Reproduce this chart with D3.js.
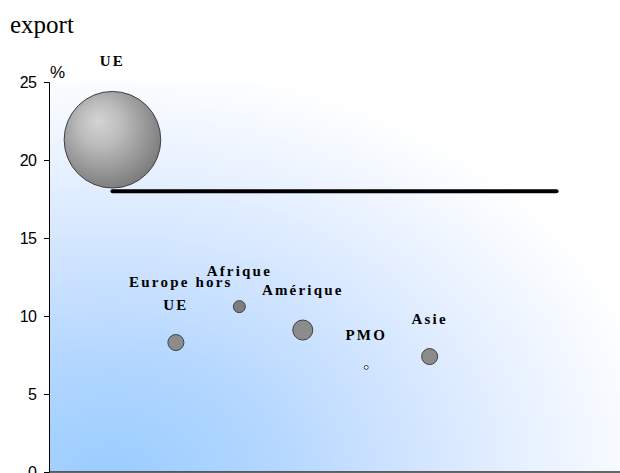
<!DOCTYPE html>
<html><head><meta charset="utf-8">
<script src="https://cdnjs.cloudflare.com/ajax/libs/d3/7.8.5/d3.min.js"></script>
<style>body{margin:0;background:#fff}svg{display:block}</style>
</head><body>
<script>
// Data
const categories = ["UE", "Europe hors UE", "Afrique", "Amérique", "PMO", "Asie"];
const xPositions = [1, 2, 3, 4, 5, 6];
const shareValues = [21.3, 8.3, 10.6, 9.1, 6.7, 7.4];
const bubbleSizes = [2330, 64, 36, 100, 4, 64];
const refLineX = [1, 8];
const refLineY = [18, 18];
const yTicks = [0, 5, 10, 15, 20, 25];

const W = 620, H = 473;
const svg = d3.select("body").append("svg").attr("width", W).attr("height", H);
const defs = svg.append("defs");

const x = d3.scaleLinear().domain([0, 9]).range([49, 620]);
const y = d3.scaleLinear().domain([0, 25]).range([472, 82]);
const r = d3.scaleSqrt().domain([0, 2330]).range([0, 48.3]);

// background gradient (elliptical, from bottom-left)
const bg = defs.append("radialGradient").attr("id", "bg")
  .attr("gradientUnits", "userSpaceOnUse")
  .attr("cx", 0).attr("cy", 0).attr("r", 1)
  .attr("gradientTransform", "translate(110,480) scale(560,420)");
[[0, "#99ccff"], [0.3, "#b4d7ff"], [0.55, "#d2e5ff"], [0.8, "#edf4ff"], [1, "#ffffff"]]
  .forEach(([o, c]) => bg.append("stop").attr("offset", o).attr("stop-color", c));

const ball = defs.append("radialGradient").attr("id", "ball")
  .attr("cx", 0.42).attr("cy", 0.4).attr("r", 0.62).attr("fx", 0.35).attr("fy", 0.3);
[[0, "#d4d4d4"], [0.35, "#bdbdbd"], [0.7, "#9a9a9a"], [1, "#7c7c7c"]]
  .forEach(([o, c]) => ball.append("stop").attr("offset", o).attr("stop-color", c));

svg.append("rect").attr("x", x(0)).attr("y", y(25))
  .attr("width", x(9) - x(0)).attr("height", y(0) - y(25)).attr("fill", "url(#bg)");

// title
svg.append("text").attr("x", 10).attr("y", 33).text("export")
  .style("font-family", "'Liberation Serif', 'Times New Roman', serif").style("font-size", "25px").attr("fill", "#000");

// y axis
const yAxis = d3.axisLeft(y).tickValues(yTicks).tickSize(5).tickPadding(8);
const gy = svg.append("g").attr("transform", `translate(${x(0)},0)`).call(yAxis);
gy.select(".domain").attr("stroke", "#000");
gy.selectAll(".tick line").attr("stroke", "#000");
gy.selectAll(".tick text").style("font-family", "'Liberation Sans', Arial, sans-serif")
  .style("font-size", "16px").style("letter-spacing", "-0.8px").attr("fill", "#000");

// x axis line
svg.append("line").attr("x1", x(0)).attr("x2", x(9)).attr("y1", y(0)).attr("y2", y(0))
  .attr("stroke", "#333").attr("stroke-width", 1.5);

svg.append("text").attr("x", 50).attr("y", 78).text("%")
  .style("font-family", "'Liberation Sans', Arial, sans-serif").style("font-size", "17px");

// reference line
svg.append("path").datum(refLineX.map((d, i) => [d, refLineY[i]]))
  .attr("d", d3.line().x(d => x(d[0])).y(d => y(d[1])))
  .attr("stroke", "#000").attr("stroke-width", 4).attr("stroke-linecap", "round").attr("fill", "none");

// bubbles
const data = categories.map((c, i) => ({c, x: xPositions[i], v: shareValues[i], s: bubbleSizes[i]}));
svg.selectAll("circle.b").data(data).enter().append("circle").attr("class", "b")
  .attr("cx", d => x(d.x)).attr("cy", d => y(d.v)).attr("r", d => r(d.s))
  .attr("fill", (d, i) => i === 0 ? "url(#ball)" : (i === 4 ? "#ffffff" : (i === 2 ? "#7d7d7d" : "#8c8c8c")))
  .attr("stroke", "#404040").attr("stroke-width", 1);

// labels
const labelLines = {"Europe hors UE": ["Europe hors", "UE"]};
data.forEach(d => {
  const lines = labelLines[d.c] || [d.c];
  const base = y(d.v) - r(d.s) - 25;
  lines.forEach((ln, j) => {
    svg.append("text").attr("x", x(d.x) + (lines.length > 1 && j === 0 ? 5 : 0))
      .attr("y", base - (lines.length - 1 - j) * 23)
      .attr("text-anchor", "middle").text(ln)
      .style("font-family", "'Liberation Serif', 'Times New Roman', serif")
      .style("font-size", "15px").style("font-weight", "bold").style("letter-spacing", "2.2px");
  });
});
</script>
</body></html>
